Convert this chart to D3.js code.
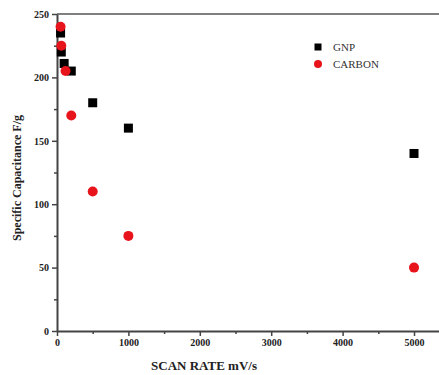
<!DOCTYPE html>
<html>
  <head>
    <meta charset="UTF-8">
    <style>
      body {
        margin: 0;
        background: #fff;
        font-family: 'Liberation Serif', serif;
      }
      .tick text {
        font-family: 'Liberation Serif', serif;
        font-size: 10px;
        font-weight: bold;
        fill: #222;
      }
    </style>
    <script src="https://d3js.org/d3.v7.min.js"></script>
  </head>
  <body>
    <svg id="chart"></svg>
    <script type="text/javascript">
      // scan rates (mV/s) and specific capacitance (F/g)
      let gnpRates = [50, 60, 100, 200, 500, 1000, 5000]
      let gnpValues = [235, 220, 211, 205, 180, 160, 140]
      let carbonRates = [50, 60, 120, 200, 500, 1000, 5000]
      let carbonValues = [240, 225, 205, 170, 110, 75, 50]
      let xTicks = [0, 1000, 2000, 3000, 4000, 5000]
      let yTicks = [0, 50, 100, 150, 200, 250]

      let width = 439
      let height = 375
      let margin = {top: 14, bottom: 44, left: 57, right: 0}

      let svg = d3.select('#chart')
        .attr('width', width)
        .attr('height', height)

      let xScale = d3.scaleLinear()
        .domain([0, 5350])
        .range([margin.left, width - margin.right])

      let yScale = d3.scaleLinear()
        .domain([0, 250])
        .range([height - margin.bottom, margin.top])

      // top frame line
      svg.append('line')
        .attr('x1', margin.left)
        .attr('x2', width)
        .attr('y1', yScale(250))
        .attr('y2', yScale(250))
        .attr('stroke', '#555')
        .attr('stroke-width', 1.5)

      // minor ticks
      let xAxisMinor = d3.axisBottom(xScale)
        .tickValues(d3.range(500, 5001, 1000))
        .tickSize(3)
        .tickFormat('')
      svg.append('g')
        .attr('transform', `translate(0, ${yScale(0)})`)
        .call(xAxisMinor)
        .call(g => g.select('.domain').remove())
        .selectAll('line').attr('stroke', '#444').attr('stroke-width', 1.5)

      let yAxisMinor = d3.axisLeft(yScale)
        .tickValues(d3.range(25, 250, 50))
        .tickSize(3)
        .tickFormat('')
      svg.append('g')
        .attr('transform', `translate(${margin.left}, 0)`)
        .call(yAxisMinor)
        .call(g => g.select('.domain').remove())
        .selectAll('line').attr('stroke', '#444').attr('stroke-width', 1.5)

      let xAxis = d3.axisBottom(xScale)
        .tickValues(xTicks)
        .tickFormat(d3.format('d'))
        .tickSize(5)
        .tickSizeOuter(0)
        .tickPadding(3)
      let gx = svg.append('g')
        .attr('transform', `translate(0, ${yScale(0)})`)
        .call(xAxis)
      gx.select('.domain').attr('stroke', '#444').attr('stroke-width', 2)
      gx.selectAll('.tick line').attr('stroke', '#444').attr('stroke-width', 1.5)

      let yAxis = d3.axisLeft(yScale)
        .tickValues(yTicks)
        .tickFormat(d3.format('d'))
        .tickSize(5)
        .tickSizeOuter(0)
        .tickPadding(3)
      let gy = svg.append('g')
        .attr('transform', `translate(${margin.left}, 0)`)
        .call(yAxis)
      gy.select('.domain').attr('stroke', '#444').attr('stroke-width', 2)
      gy.selectAll('.tick line').attr('stroke', '#444').attr('stroke-width', 1.5)

      // axis titles
      svg.append('text')
        .attr('x', 204)
        .attr('y', 370)
        .attr('text-anchor', 'middle')
        .style('font-size', '13px')
        .style('font-weight', 'bold')
        .attr('fill', '#222')
        .text('SCAN RATE mV/s')

      svg.append('text')
        .attr('transform', `translate(21, 178) rotate(-90)`)
        .attr('text-anchor', 'middle')
        .style('font-size', '12px')
        .style('font-weight', 'bold')
        .attr('fill', '#222')
        .text('Specific Capacitance F/g')

      // data points
      let gnp = gnpRates.map((r, i) => ({rate: r, value: gnpValues[i]}))
      let carbon = carbonRates.map((r, i) => ({rate: r, value: carbonValues[i]}))
      let sq = 9

      svg.append('g').selectAll('rect')
        .data(gnp)
        .enter()
        .append('rect')
        .attr('x', d => xScale(d.rate) - sq / 2)
        .attr('y', d => yScale(d.value) - sq / 2)
        .attr('width', sq)
        .attr('height', sq)
        .attr('fill', '#000')

      svg.append('g').selectAll('circle')
        .data(carbon)
        .enter()
        .append('circle')
        .attr('cx', d => xScale(d.rate))
        .attr('cy', d => yScale(d.value))
        .attr('r', 5)
        .attr('fill', '#e8141b')

      // legend
      let legend = [
        {name: 'GNP', type: 'square', color: '#000'},
        {name: 'CARBON', type: 'circle', color: '#e8141b'}
      ]
      let lg = svg.selectAll('.legend')
        .data(legend)
        .enter()
        .append('g')
        .attr('class', 'legend')
        .attr('transform', (d, i) => `translate(318, ${47 + i * 17})`)

      lg.filter(d => d.type == 'square').append('rect')
        .attr('x', -3.5).attr('y', -3.5)
        .attr('width', 7).attr('height', 7)
        .attr('fill', d => d.color)
      lg.filter(d => d.type == 'circle').append('circle')
        .attr('r', 4)
        .attr('fill', d => d.color)

      lg.append('text')
        .attr('x', 15)
        .attr('y', 4)
        .style('font-size', '11px')
        .attr('fill', '#333')
        .text(d => d.name)
    </script>
  </body>
</html>
